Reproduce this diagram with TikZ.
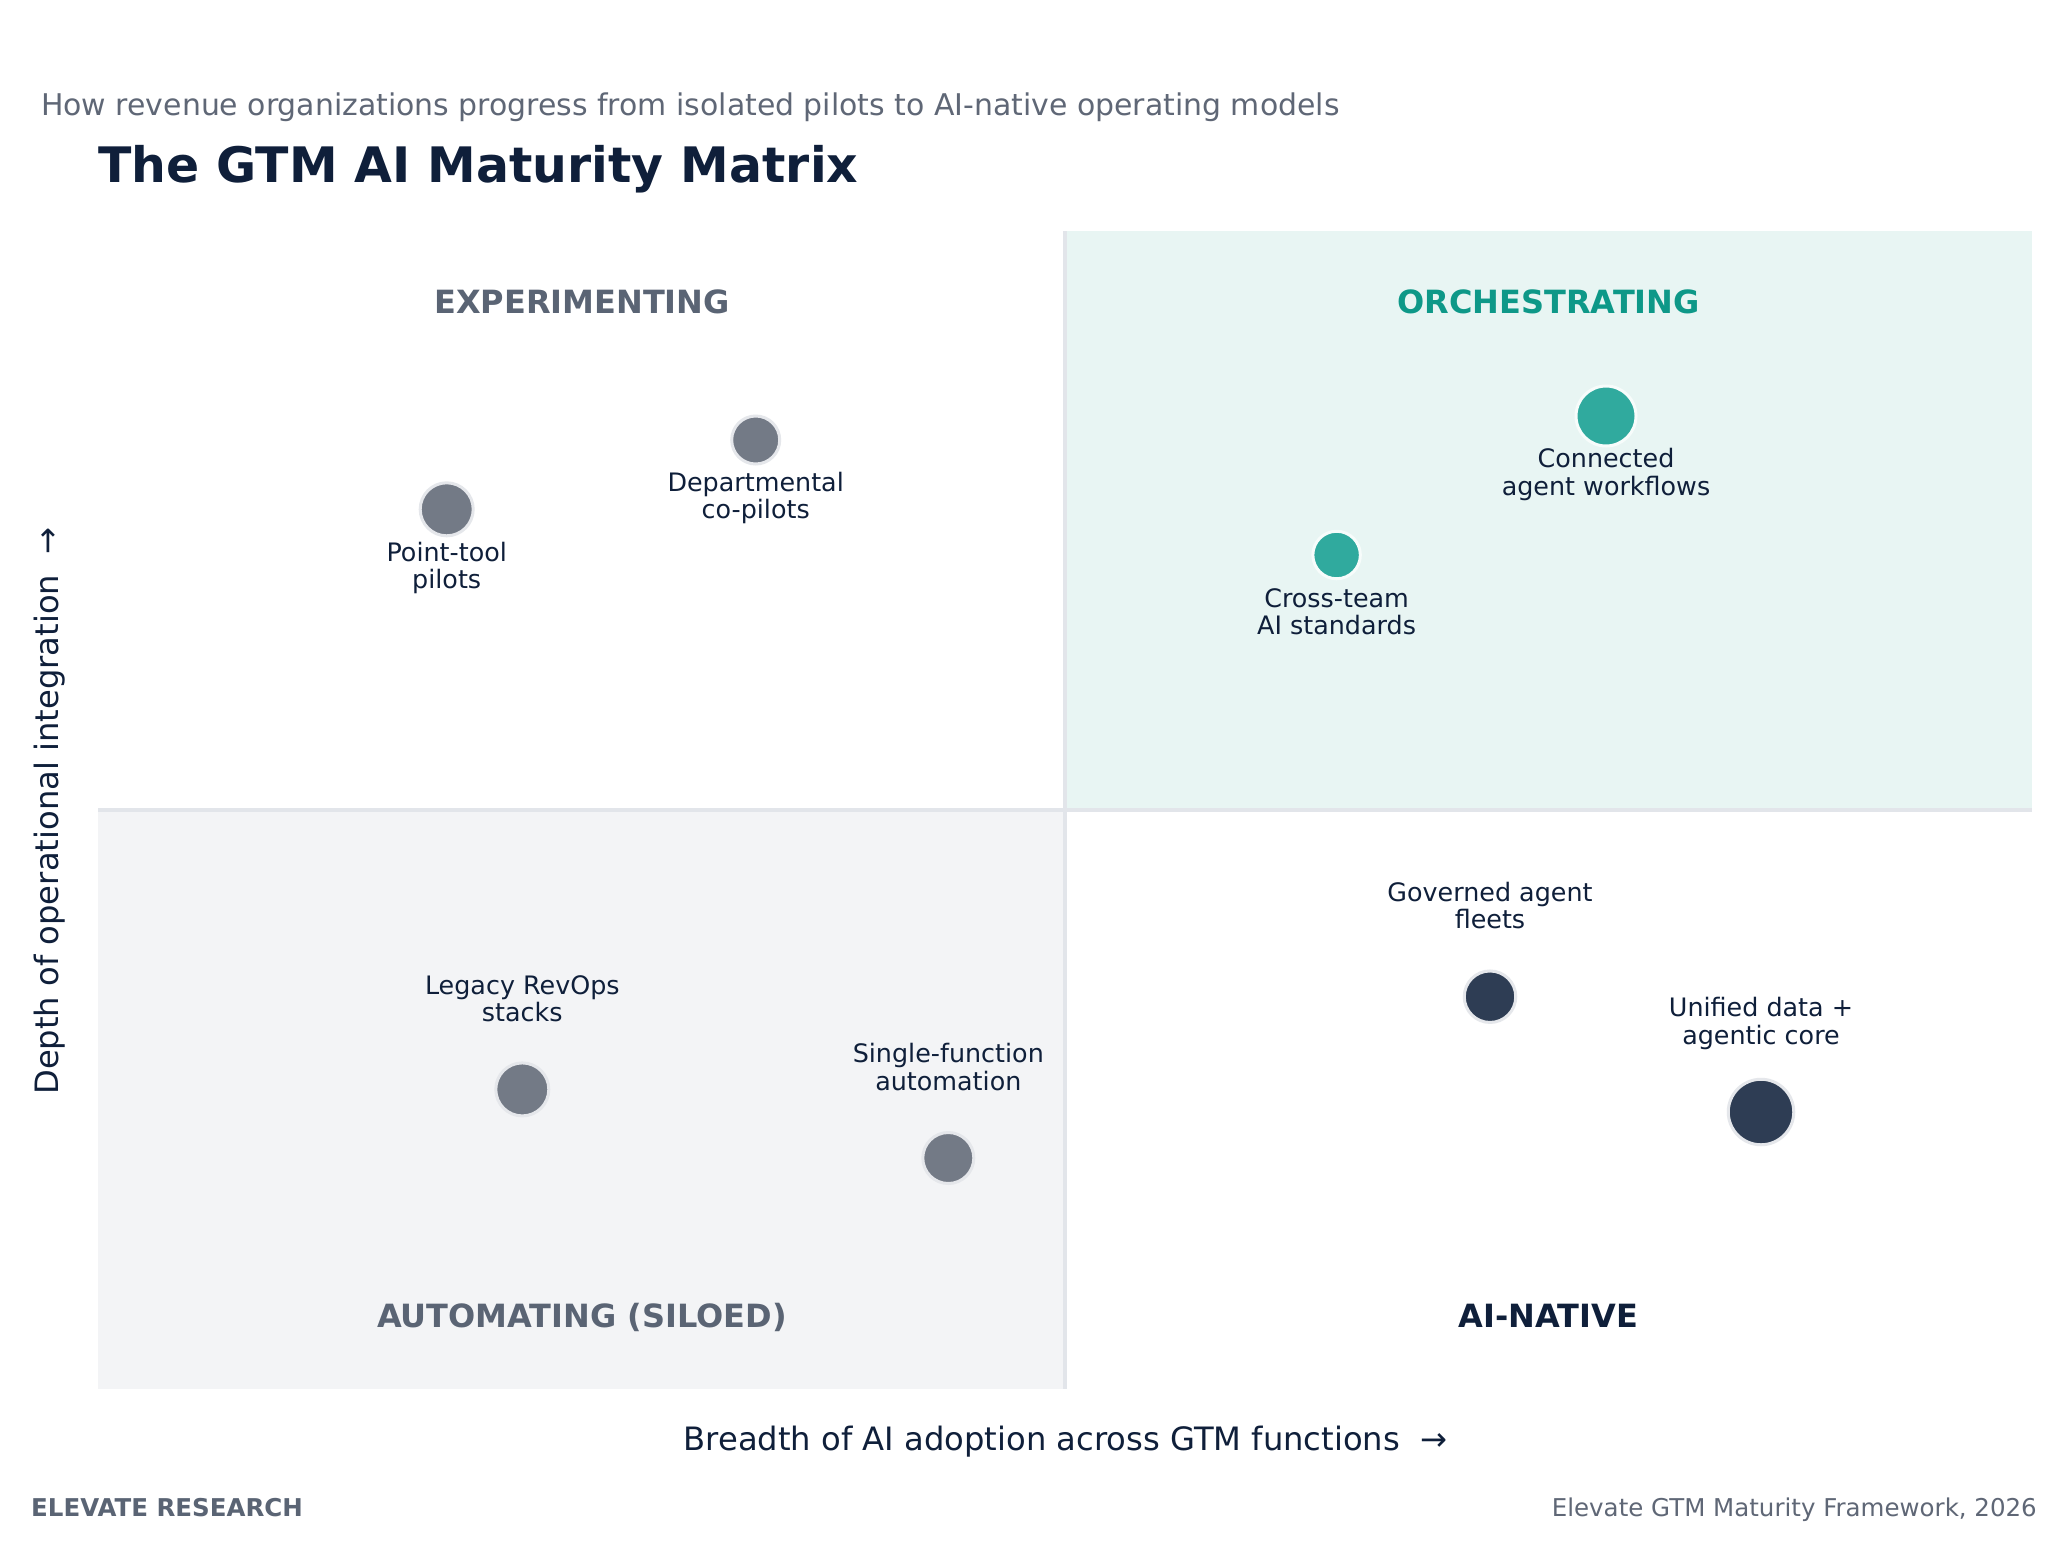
\documentclass[tikz,border=0pt]{standalone}
\usepackage{fontspec}
\setmainfont{DejaVu Sans}
\definecolor{navy}{HTML}{0F1F3A}
\definecolor{subgray}{HTML}{5F6776}
\definecolor{quadgray}{HTML}{5A6474}
\definecolor{tealtxt}{HTML}{0E9888}
\definecolor{greenq}{HTML}{E8F5F3}
\definecolor{grayq}{HTML}{F3F4F6}
\definecolor{gridc}{HTML}{E2E5EA}
\definecolor{dotgray}{HTML}{737A86}
\definecolor{dotteal}{HTML}{30AA9E}
\definecolor{dotnavy}{HTML}{2E3D54}
\definecolor{ringgray}{HTML}{E5E7EB}
\definecolor{ringwhite}{HTML}{F7FCFB}
\begin{document}
\begin{tikzpicture}[x=1pt,y=-1pt,
  dotbase/.style={circle, inner sep=0pt, outer sep=0pt, line width=3pt},
  graydot/.style={dotbase, fill=dotgray, draw=ringgray},
  tealdot/.style={dotbase, fill=dotteal, draw=ringwhite},
  navydot/.style={dotbase, fill=dotnavy, draw=ringgray},
  lbl/.style={inner sep=0pt, outer sep=0pt, align=center, text=navy, anchor=north, font={\fontsize{25.4}{27.5}\selectfont}},
  quad/.style={inner sep=0pt, anchor=base, font={\bfseries\fontsize{32}{38}\selectfont}},
  gridline/.style={draw=gridc, line width=4pt},
  axislbl/.style={inner sep=0pt, anchor=base, text=navy, font={\fontsize{32.2}{38}\selectfont}}
]
\useasboundingbox (0,0) rectangle (2068,1540);
\fill[white] (0,0) rectangle (2068,1540);

% quadrant backgrounds
\fill[greenq] (1065,231) rectangle (2032,810);
\fill[grayq] (98,810) rectangle (1065,1389);
\coordinate (vtop) at (1065,231);
\coordinate (vbot) at (1065,1389);
\coordinate (hl) at (98,810);
\coordinate (hr) at (2032,810);
\draw[gridline] (vtop) -- (vbot);
\draw[gridline] (hl) -- (hr);

% titles
\node[inner sep=0pt, anchor=base west, text=subgray, font={\fontsize{29.9}{35}\selectfont}] (subtitle) at (41,115.7) {How revenue organizations progress from isolated pilots to AI-native operating models};
\node[inner sep=0pt, anchor=base west, text=navy, font={\bfseries\fontsize{48.9}{56}\selectfont}] (title) at (98,182) {The GTM AI Maturity Matrix};

% quadrant labels
\node[quad, text=quadgray] (qexp) at (582,313) {EXPERIMENTING};
\node[quad, text=tealtxt] (qorch) at (1548.5,313) {ORCHESTRATING};
\node[quad, text=quadgray] (qauto) at (582,1327) {AUTOMATING (SILOED)};
\node[quad, text=navy] (qnat) at (1548.5,1327) {AI-NATIVE};

% dots and labels
\node[graydot, minimum size=53pt] (ptool) at (446.7,509.3) {};
\node[lbl] (ptoolL) at (446.7,541.8) {Point-tool\\pilots};

\node[graydot, minimum size=48pt] (dept) at (755.7,440) {};
\node[lbl] (deptL) at (755.7,471.8) {Departmental\\co-pilots};

\node[tealdot, minimum size=60pt] (conn) at (1606,416) {};
\node[lbl] (connL) at (1606,448.5) {Connected\\agent workflows};

\node[tealdot, minimum size=47.5pt] (cross) at (1336.6,555) {};
\node[lbl] (crossL) at (1336.6,588.2) {Cross-team\\AI standards};

\node[navydot, minimum size=51.5pt] (gov) at (1490,996.7) {};
\node[lbl] (govL) at (1490,881.8) {Governed agent\\fleets};

\node[navydot, minimum size=65.5pt] (unif) at (1761,1112) {};
\node[lbl] (unifL) at (1761,997.5) {Unified data +\\agentic core};

\node[graydot, minimum size=53pt] (legacy) at (522.3,1089.4) {};
\node[lbl] (legacyL) at (522.3,975.3) {Legacy RevOps\\stacks};

\node[graydot, minimum size=51pt] (single) at (948.3,1158) {};
\node[lbl] (singleL) at (948.3,1043.3) {Single-function\\automation};

% axis labels
\node[axislbl] (xlab) at (1065.5,1450.7) {Breadth of AI adoption across GTM functions~~→};
\node[axislbl, rotate=90] (ylab) at (58.5,811) {Depth of operational integration~~→};

% footer
\node[inner sep=0pt, anchor=base west, text=quadgray, font={\bfseries\fontsize{24.5}{28}\selectfont}] (footl) at (31,1516.7) {ELEVATE RESEARCH};
\node[inner sep=0pt, anchor=base east, text=subgray, font={\fontsize{24.5}{28}\selectfont}] (footr) at (2037,1516.7) {Elevate GTM Maturity Framework, 2026};
\end{tikzpicture}
\end{document}
